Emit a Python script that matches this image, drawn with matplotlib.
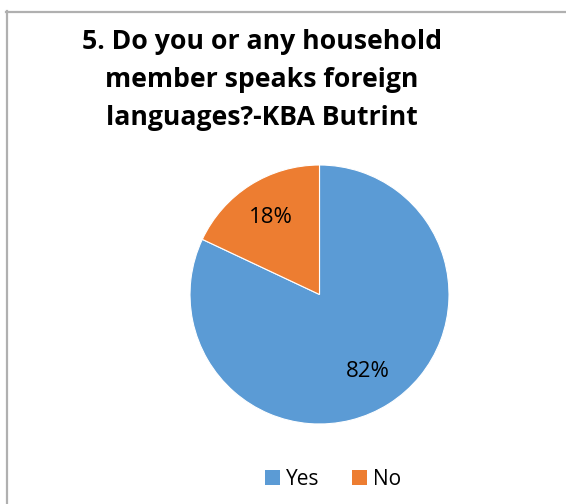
import matplotlib
matplotlib.use("Agg")
import matplotlib.pyplot as plt
from matplotlib.lines import Line2D

categories = ["Yes", "No"]
shares = [82, 18]
colors = ["#5B9BD5", "#ED7D31"]
title = "5. Do you or any household\nmember speaks foreign\nlanguages?-KBA Butrint"

W, H = 566, 504
fig = plt.figure(figsize=(W / 100, H / 100), dpi=100)
fig.patch.set_facecolor("white")

def fx(px):
    return px / W

def fy(py):
    return 1 - py / H

# Frame: top and left edges
fig.add_artist(Line2D([fx(6), fx(566)], [fy(12), fy(12)], color="#b0b0b0", lw=1.6,
                      transform=fig.transFigure))
fig.add_artist(Line2D([fx(7), fx(7)], [fy(11), fy(504)], color="#b0b0b0", lw=1.6,
                      transform=fig.transFigure))

fig.text(fx(262), fy(80), title, ha="center", va="center", fontsize=19.2,
         fontweight="bold", family="Open Sans", linespacing=1.58, color="black")

# Pie
cx, cy, r = 319.5, 294.5, 129.5
ax = fig.add_axes([fx(cx - r), fy(cy + r), 2 * r / W, 2 * r / H])
wedges, texts, autotexts = ax.pie(
    shares, colors=colors, startangle=90, counterclock=False,
    autopct=lambda p: f"{p:.0f}%", pctdistance=0.70,
    wedgeprops=dict(edgecolor="white", linewidth=0.8),
    textprops=dict(fontsize=16, family="Open Sans", color="black"),
)
ax.set_aspect("equal")
ax.set_xlim(-1, 1)
ax.set_ylim(-1, 1)

# Legend
leg = fig.legend(wedges, categories, loc="center", bbox_to_anchor=(fx(333), fy(479.5)),
                 ncol=2, frameon=False, handlelength=0.72, handleheight=0.72,
                 handletextpad=0.27, columnspacing=1.6, borderpad=0, borderaxespad=0,
                 prop=dict(family="Open Sans", size=15))
for h in leg.legend_handles:
    h.set_edgecolor("none")

fig.savefig("out.png", dpi=100, facecolor="white")
